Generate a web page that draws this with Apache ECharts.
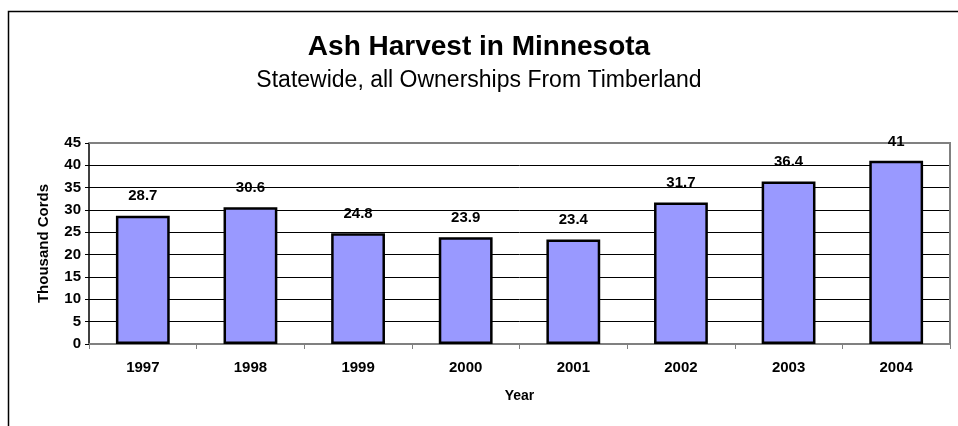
<!DOCTYPE html>
<html>
<head>
<meta charset="utf-8">
<script src="https://cdn.jsdelivr.net/npm/echarts@6/dist/echarts.min.js"></script>
<style>
  html, body { margin: 0; padding: 0; background: #fff; }
  #chart { width: 958px; height: 426px; }
</style>
</head>
<body>
<div id="chart"></div>
<script>
// Ash harvest, thousand cords per year
const years = ['1997', '1998', '1999', '2000', '2001', '2002', '2003', '2004'];
const harvest = [28.7, 30.6, 24.8, 23.9, 23.4, 31.7, 36.4, 41];
const yTicks = { min: 0, max: 45, interval: 5 };

const FONT = '"Liberation Sans", Arial, sans-serif';

// top gridline doubles as the grey plot frame
const splitColors = [];
for (let v = yTicks.min; v <= yTicks.max; v += yTicks.interval) {
  splitColors.push(v === yTicks.max ? '#808080' : '#000000');
}

const chart = echarts.init(document.getElementById('chart'));
chart.setOption({
  animation: false,
  backgroundColor: '#ffffff',
  textStyle: { fontFamily: FONT },
  title: {
    text: 'Ash Harvest in Minnesota',
    subtext: 'Statewide, all Ownerships From Timberland',
    left: 'center',
    top: 28,
    itemGap: 8,
    textStyle: { fontFamily: FONT, fontSize: 28, fontWeight: 'bold', color: '#000' },
    subtextStyle: { fontFamily: FONT, fontSize: 23, color: '#000' }
  },
  graphic: [{
    type: 'rect',
    shape: { x: 8.5, y: 11.5, width: 1200, height: 1200 },
    style: { fill: 'none', stroke: '#000', lineWidth: 1.5 },
    silent: true
  }, {
    type: 'polyline',
    shape: { points: [[89, 143], [950, 143], [950, 344]] },
    style: { fill: 'none', stroke: '#808080', lineWidth: 2 },
    silent: true,
    z: 1
  }],
  grid: { left: 89, top: 143, width: 861, height: 201, containLabel: false },
  xAxis: {
    type: 'category',
    data: years,
    name: 'Year',
    nameLocation: 'middle',
    nameGap: 45,
    nameTextStyle: { fontFamily: FONT, fontSize: 14, fontWeight: 'bold', color: '#000' },
    axisLine: { lineStyle: { color: '#808080', width: 2 } },
    axisTick: { show: true, length: 5, lineStyle: { color: '#808080', width: 1 } },
    axisLabel: { margin: 16, fontFamily: FONT, fontSize: 15, fontWeight: 'bold', color: '#000' },
    splitLine: { show: false }
  },
  yAxis: {
    type: 'value',
    min: yTicks.min,
    max: yTicks.max,
    interval: yTicks.interval,
    name: 'Thousand Cords',
    nameLocation: 'middle',
    nameGap: 38,
    nameTextStyle: { fontFamily: FONT, fontSize: 15, fontWeight: 'bold', color: '#000' },
    axisLine: { show: true, lineStyle: { color: '#000', width: 1.5 } },
    axisTick: { show: true, length: 4, lineStyle: { color: '#000' } },
    axisLabel: { margin: 8, fontFamily: FONT, fontSize: 15, fontWeight: 'bold', color: '#000' },
    splitLine: { show: true, lineStyle: { color: splitColors, width: 1 } }
  },
  series: [{
    type: 'bar',
    data: harvest,
    barWidth: '50%',
    itemStyle: { color: '#9999FF', borderColor: '#000', borderWidth: 2.5 },
    label: {
      show: true,
      position: 'top',
      distance: 12,
      fontFamily: FONT,
      fontSize: 15,
      fontWeight: 'bold',
      color: '#000'
    }
  }]
});
</script>
</body>
</html>
